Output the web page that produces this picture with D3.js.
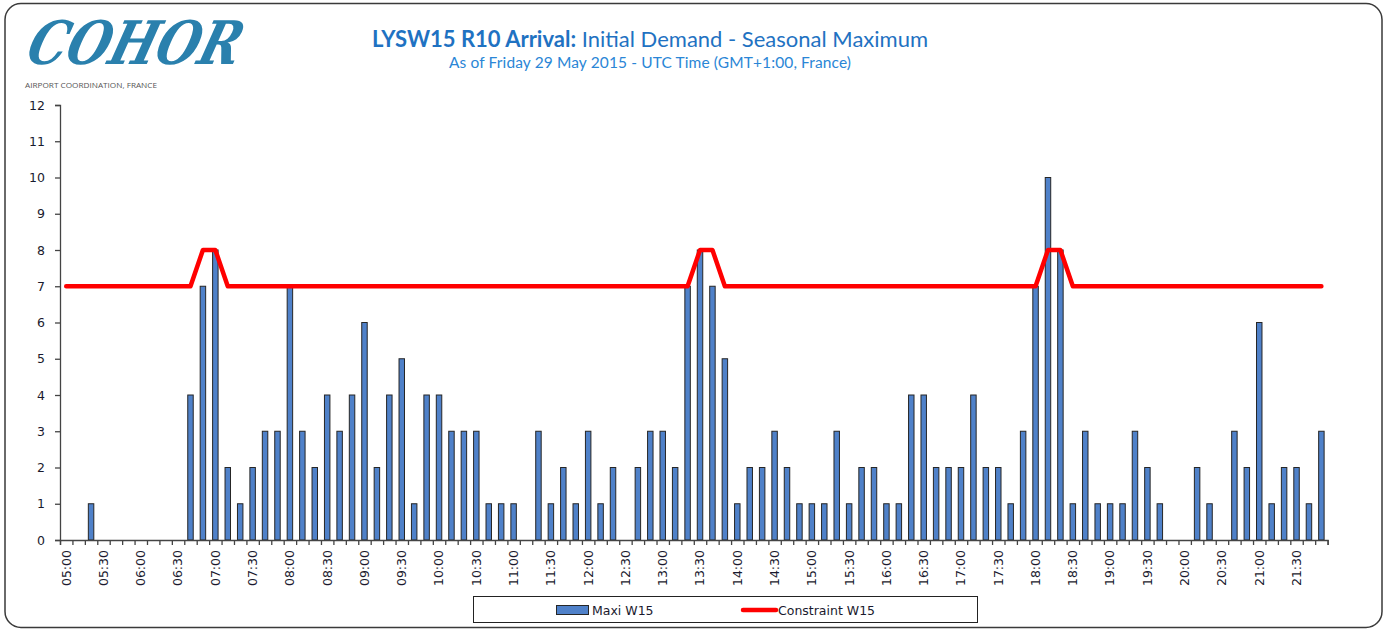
<!DOCTYPE html>
<html><head><meta charset="utf-8">
<script src="https://cdn.jsdelivr.net/npm/d3@7"></script>
<style>
html,body{margin:0;padding:0;background:#fff;}
svg{display:block;}
</style></head>
<body>
<svg id="chart" width="1390" height="630"></svg>
<script>
const slots = ["05:00","05:10","05:20","05:30","05:40","05:50","06:00","06:10","06:20","06:30","06:40","06:50",
"07:00","07:10","07:20","07:30","07:40","07:50","08:00","08:10","08:20","08:30","08:40","08:50",
"09:00","09:10","09:20","09:30","09:40","09:50","10:00","10:10","10:20","10:30","10:40","10:50",
"11:00","11:10","11:20","11:30","11:40","11:50","12:00","12:10","12:20","12:30","12:40","12:50",
"13:00","13:10","13:20","13:30","13:40","13:50","14:00","14:10","14:20","14:30","14:40","14:50",
"15:00","15:10","15:20","15:30","15:40","15:50","16:00","16:10","16:20","16:30","16:40","16:50",
"17:00","17:10","17:20","17:30","17:40","17:50","18:00","18:10","18:20","18:30","18:40","18:50",
"19:00","19:10","19:20","19:30","19:40","19:50","20:00","20:10","20:20","20:30","20:40","20:50",
"21:00","21:10","21:20","21:30","21:40","21:50"];
const maxiW15 = [0,0,1,0,0,0,0,0,0,0,4,7,8,2,1,2,3,3,7,3,2,4,3,4,6,2,4,5,1,4,4,3,3,3,1,1,1,0,3,1,2,1,3,1,2,0,2,3,3,2,7,8,7,5,1,2,2,3,2,1,1,1,3,1,2,2,1,1,4,4,2,2,2,4,2,2,1,3,7,10,8,1,3,1,1,1,3,2,1,0,0,2,1,0,3,2,6,1,2,2,1,3];
const constraintW15 = [7,7,7,7,7,7,7,7,7,7,7,8,8,7,7,7,7,7,7,7,7,7,7,7,7,7,7,7,7,7,7,7,7,7,7,7,7,7,7,7,7,7,7,7,7,7,7,7,7,7,7,8,8,7,7,7,7,7,7,7,7,7,7,7,7,7,7,7,7,7,7,7,7,7,7,7,7,7,7,8,8,7,7,7,7,7,7,7,7,7,7,7,7,7,7,7,7,7,7,7,7,7];
const xTickLabels = ["05:00","05:30","06:00","06:30","07:00","07:30","08:00","08:30","09:00","09:30","10:00","10:30",
"11:00","11:30","12:00","12:30","13:00","13:30","14:00","14:30","15:00","15:30","16:00","16:30",
"17:00","17:30","18:00","18:30","19:00","19:30","20:00","20:30","21:00","21:30"];
const yTicks = [0,1,2,3,4,5,6,7,8,9,10,11,12];
const titleBold = "LYSW15 R10 Arrival:";
const titleRest = " Initial Demand - Seasonal Maximum";
const subtitle = "As of Friday 29 May 2015 - UTC Time (GMT+1:00,  France)";
const seriesNames = ["Maxi W15","Constraint W15"];

const svg = d3.select("#chart");
const L = 60, R = 1327.6, T = 105, B = 540;

// frame
svg.append("rect").attr("x",5).attr("y",3.5).attr("width",1377).attr("height",624)
  .attr("rx",16).attr("fill","#fff").attr("stroke","#3a3a3a").attr("stroke-width",1.5);

// logo
svg.append("text").attr("x",0).attr("y",0)
  .attr("transform","translate(24,64) skewX(-16)")
  .attr("font-family","DejaVu Serif").attr("font-style","italic").attr("font-weight","bold")
  .attr("font-size",60).attr("fill","#2a80ad")
  .attr("textLength",212).attr("lengthAdjust","spacingAndGlyphs").text("COHOR");
svg.append("text").attr("x",25).attr("y",88).attr("font-family","Open Sans")
  .attr("font-size",7.5).attr("fill","#555").attr("textLength",132).attr("lengthAdjust","spacingAndGlyphs")
  .text("AIRPORT COORDINATION, FRANCE");

// titles
const t = svg.append("text").attr("x",650).attr("y",47).attr("text-anchor","middle")
  .attr("font-family","Lato").attr("font-size",22).attr("fill","#1f72c2");
t.append("tspan").attr("font-weight","bold").text(titleBold);
t.append("tspan").text(titleRest);
svg.append("text").attr("x",650).attr("y",68).attr("text-anchor","middle")
  .attr("font-family","Lato").attr("font-size",15.5).attr("fill","#2a86d6")
  .attr("textLength",402).attr("lengthAdjust","spacing").text(subtitle);

// scales
const x = d3.scaleBand().domain(slots).range([L,R]).paddingInner(0.56).paddingOuter(0.28);
const xb = d3.scaleLinear().domain([0,slots.length]).range([L,R]);
const y = d3.scaleLinear().domain([0,12]).range([B,T]);
const cx = s => x(s) + x.bandwidth()/2;

// bars
svg.append("g").selectAll("rect").data(slots.map((s,i)=>({s,v:maxiW15[i]})).filter(d=>d.v>0))
  .join("rect")
  .attr("x",d=>x(d.s)).attr("width",x.bandwidth())
  .attr("y",d=>y(d.v)).attr("height",d=>y(0)-y(d.v))
  .attr("fill","#4f81c9").attr("stroke","#262626").attr("stroke-width",1);

// y axis
const ya = svg.append("g").attr("transform",`translate(${L},0)`)
  .call(d3.axisLeft(y).tickValues(yTicks).tickSize(5).tickPadding(10).tickFormat(d3.format("d")));
ya.select(".domain").attr("stroke","#444").attr("stroke-width",1.3);
ya.selectAll(".tick line").attr("stroke","#444").attr("stroke-width",1.3);
ya.selectAll("text").attr("font-family","DejaVu Sans").attr("font-size",12.5).attr("fill","#1a1a2e");

// x axis with boundary ticks
const xa = svg.append("g").attr("transform",`translate(0,${B})`)
  .call(d3.axisBottom(xb).tickValues(d3.range(slots.length+1)).tickSize(5).tickFormat(""));
xa.select(".domain").attr("stroke","#444").attr("stroke-width",1.3);
xa.selectAll(".tick line").attr("stroke","#444").attr("stroke-width",1.3);
svg.append("g").selectAll("text").data(xTickLabels).join("text")
  .attr("transform",d=>`translate(${cx(d)},550) rotate(-90)`)
  .attr("dy","0.35em").attr("text-anchor","end")
  .attr("font-family","DejaVu Sans").attr("font-size",12.5).attr("fill","#1a1a2e").text(d=>d);

// constraint line
const line = d3.line().x((d,i)=>cx(slots[i])).y(d=>y(d));
svg.append("path").datum(constraintW15).attr("d",line).attr("fill","none")
  .attr("stroke","#ff0000").attr("stroke-width",4.5).attr("stroke-linejoin","round").attr("stroke-linecap","round");

// legend
const lg = svg.append("g");
lg.append("rect").attr("x",473.5).attr("y",596.5).attr("width",504).attr("height",26)
  .attr("fill","#fff").attr("stroke","#222").attr("stroke-width",1);
lg.append("rect").attr("x",556.5).attr("y",605.5).attr("width",32).attr("height",9)
  .attr("fill","#4f81c9").attr("stroke","#262626").attr("stroke-width",1);
lg.append("text").attr("x",592).attr("y",614.5).attr("font-family","DejaVu Sans").attr("font-size",12.5)
  .attr("fill","#1a1a2e").text(seriesNames[0]);
lg.append("line").attr("x1",743).attr("x2",776).attr("y1",610).attr("y2",610)
  .attr("stroke","#ff0000").attr("stroke-width",4.5).attr("stroke-linecap","round");
lg.append("text").attr("x",778).attr("y",614.5).attr("font-family","DejaVu Sans").attr("font-size",12.5)
  .attr("fill","#1a1a2e").text(seriesNames[1]);
</script>
</body></html>
